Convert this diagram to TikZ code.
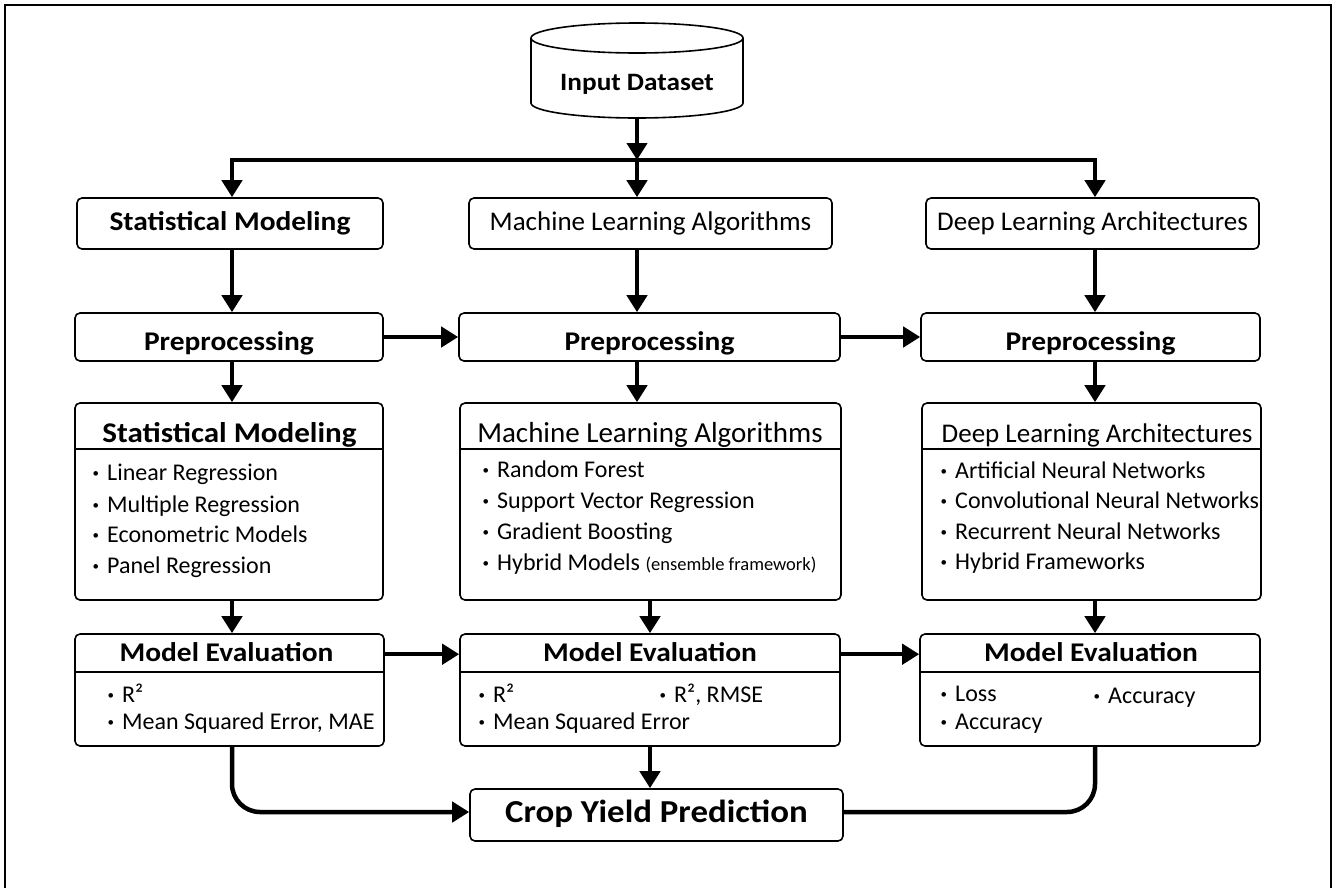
\documentclass[tikz,border=0pt]{standalone}
\usepackage{fontspec}
\setmainfont{Carlito}[BoldFeatures={FakeStretch=1.09}]
\usetikzlibrary{arrows.meta}
\newcommand\bul{\llap{\raisebox{3pt}{\fontsize{13}{13}\selectfont\textbullet}\hspace{8pt}}}
\begin{document}
\begin{tikzpicture}[x=1pt,y=-1pt,
  box/.style={draw, line width=1.6pt, rounded corners=5pt, fill=white, inner sep=0pt},
  conn/.style={line width=4.5pt, -{Triangle[length=17pt,width=20pt]}},
  open/.style={line width=4.5pt},
  divider/.style={line width=1.6pt},
  hdA/.style={font=\fontsize{27}{32}\selectfont\bfseries, text height=19pt, text depth=6pt},
  hdB/.style={font=\fontsize{27}{32}\selectfont, text height=19pt, text depth=6pt},
  hdP/.style={font=\fontsize{27}{32}\selectfont\bfseries, text height=26pt, text depth=0pt},
  hdC/.style={anchor=base, inner sep=0pt},
  itm/.style={anchor=base west, inner sep=0pt, font=\fontsize{24}{28}\selectfont},
]
\useasboundingbox (0,0) rectangle (1337,887);
% outer frame
\draw[line width=2.5pt] (5,900) -- (5,5) -- (1331,5) -- (1331,900);

% database cylinder
\node[minimum width=212pt, minimum height=95pt, inner sep=0pt] (db) at (637,70.5) {};
\draw[line width=1.6pt, fill=white] (531,38) -- (531,103)
  arc[start angle=180, end angle=0, x radius=106, y radius=15] -- (743,38);
\draw[line width=1.6pt] (637,38) ellipse[x radius=106, y radius=15];
\node[hdC, font=\fontsize{25}{30}\selectfont\bfseries] (dbtext) at (637,90) {Input Dataset};

% branch points of the three columns
\coordinate (split) at (637,160);
\coordinate (colL) at (232,160);
\coordinate (colR) at (1095,160);

% first row
\node[box, hdA, minimum width=306pt, minimum height=51pt] (sm1) at (230,223.5) {Statistical Modeling};
\node[box, hdB, minimum width=363pt, minimum height=51pt] (ml1) at (650.5,223.5) {Machine Learning Algorithms};
\node[box, hdB, minimum width=333pt, minimum height=51pt] (dl1) at (1092.5,223.5) {Deep Learning Architectures};

% preprocessing row
\node[box, hdP, minimum width=308pt, minimum height=48pt] (pp1) at (229,337) {Preprocessing};
\node[box, hdP, minimum width=381pt, minimum height=48pt] (pp2) at (649.5,337) {Preprocessing};
\node[box, hdP, minimum width=339pt, minimum height=48pt] (pp3) at (1090.5,337) {Preprocessing};

% method boxes
\node[box, minimum width=308pt, minimum height=197pt] (sm3) at (229,501.5) {};
\node[box, minimum width=381pt, minimum height=197pt] (ml3) at (650.5,501.5) {};
\node[box, minimum width=339pt, minimum height=197pt] (dl3) at (1091.5,501.5) {};
\draw[divider] (75,449) -- (383,449);
\draw[divider] (460,449) -- (841,449);
\draw[divider] (922,449) -- (1261,449);
\node[hdC, font=\fontsize{28.5}{32}\selectfont\bfseries] (sm3t) at (229.5,442) {Statistical Modeling};
\node[hdC, font=\fontsize{29}{32}\selectfont] (ml3t) at (650,442) {Machine Learning Algorithms};
\node[hdC, font=\fontsize{27}{32}\selectfont] (dl3t) at (1097,442) {Deep Learning Architectures};

\node[itm] (a1) at (107,480) {\bul Linear Regression};
\node[itm] (a2) at (107,512) {\bul Multiple Regression};
\node[itm] (a3) at (107,542) {\bul Econometric Models};
\node[itm] (a4) at (107,573) {\bul Panel Regression};

\node[itm] (b1) at (497,477) {\bul Random Forest};
\node[itm] (b2) at (497,508) {\bul Support Vector Regression};
\node[itm] (b3) at (497,539) {\bul Gradient Boosting};
\node[itm] (b4) at (497,570) {\bul Hybrid Models {\fontsize{18.5}{20}\selectfont(ensemble framework)}};

\node[itm] (c1) at (955,478) {\bul Artificial Neural Networks};
\node[itm] (c2) at (955,508) {\bul Convolutional Neural Networks};
\node[itm] (c3) at (955,539) {\bul Recurrent Neural Networks};
\node[itm] (c4) at (955,569) {\bul Hybrid Frameworks};

% evaluation row
\node[box, minimum width=309pt, minimum height=112pt] (me1) at (229.5,690) {};
\node[box, minimum width=380pt, minimum height=112pt] (me2) at (650,690) {};
\node[box, minimum width=340pt, minimum height=112pt] (me3) at (1090,690) {};
\draw[divider] (75,672) -- (384,672);
\draw[divider] (460,672) -- (840,672);
\draw[divider] (920,672) -- (1260,672);
\node[hdC, font=\fontsize{27}{32}\selectfont\bfseries] (me1t) at (226.5,661) {Model Evaluation};
\node[hdC, font=\fontsize{27}{32}\selectfont\bfseries] (me2t) at (650,661) {Model Evaluation};
\node[hdC, font=\fontsize{27}{32}\selectfont\bfseries] (me3t) at (1091,661) {Model Evaluation};

\node[itm] (d1) at (122,702) {\bul R²};
\node[itm] (d2) at (122,729) {\bul Mean Squared Error, MAE};
\node[itm] (e1) at (493,702) {\bul R²};
\node[itm] (e2) at (674,702) {\bul R², RMSE};
\node[itm] (e3) at (493,729) {\bul Mean Squared Error};
\node[itm] (f1) at (955,701) {\bul Loss};
\node[itm] (f2) at (1108,703) {\bul Accuracy};
\node[itm] (f3) at (955,729) {\bul Accuracy};

% result
\node[box, font=\fontsize{32}{36}\selectfont\bfseries, text height=21pt, text depth=7pt,
      minimum width=373pt, minimum height=52pt] (crop) at (656.5,815) {Crop Yield Prediction};

% connectors
\draw[conn] (db.south) -- (split);
\draw[conn] (split) -| (sm1.north -| colL);
\draw[conn] (split) -| (dl1.north -| colR);
\draw[conn] (split) -- (split |- ml1.north);

\draw[conn] (sm1.south -| colL) -- (pp1.north -| colL);
\draw[conn] (ml1.south -| split) -- (pp2.north -| split);
\draw[conn] (dl1.south -| colR) -- (pp3.north -| colR);

\draw[conn] (pp1.east) -- (pp2.west);
\draw[conn] (pp2.east) -- (pp3.west);

\draw[conn] (pp1.south -| colL) -- (sm3.north -| colL);
\draw[conn] (pp2.south -| split) -- (ml3.north -| split);
\draw[conn] (pp3.south -| colR) -- (dl3.north -| colR);

\draw[conn] (sm3.south -| colL) -- (me1.north -| colL);
\draw[conn] (ml3.south -| me2t) -- (me2.north -| me2t);
\draw[conn] (dl3.south -| colR) -- (me3.north -| colR);

\draw[conn] ([yshift=-21pt]me1.north east) -- ([yshift=-21pt]me2.north west);
\draw[conn] ([yshift=-21pt]me2.north east) -- ([yshift=-21pt]me3.north west);

\draw[conn] (me2.south -| me2t) -- (crop.north -| me2t);
\draw[conn, rounded corners=28pt] (me1.south -| colL) |- ([yshift=3pt]crop.west);
\draw[open, rounded corners=28pt] (me3.south -| colR) |- ([yshift=3pt]crop.east);
\end{tikzpicture}
\end{document}
